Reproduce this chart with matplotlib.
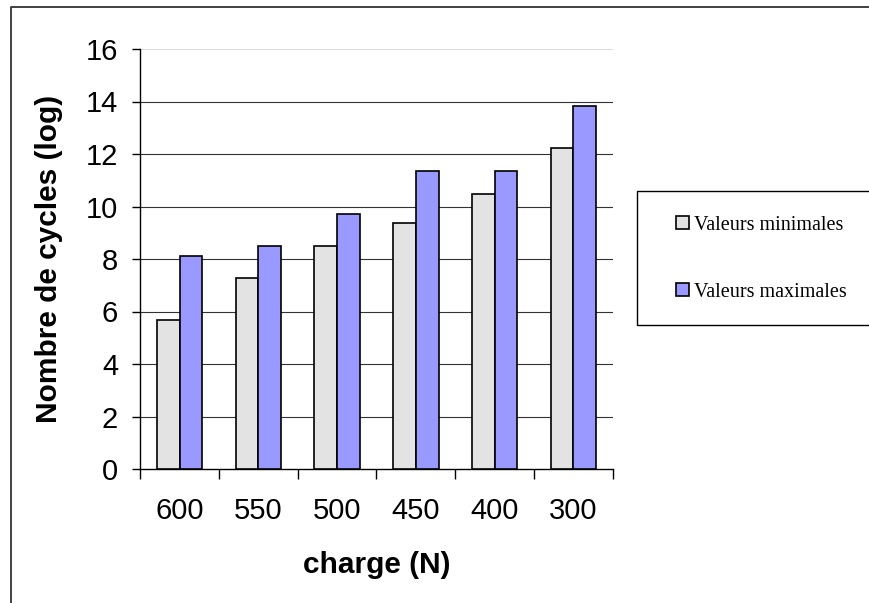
import matplotlib
matplotlib.use('Agg')
import matplotlib.pyplot as plt
from matplotlib.lines import Line2D
from matplotlib.patches import Rectangle
import numpy as np

plt.rcParams['font.family'] = ['Liberation Sans', 'DejaVu Sans']

# données
charges = ['600', '550', '500', '450', '400', '300']
val_min = [5.67, 7.26, 8.48, 9.37, 10.48, 12.21]
val_max = [8.12, 8.48, 9.71, 11.35, 11.35, 13.81]
series = ['Valeurs minimales', 'Valeurs maximales']
couleurs = ['#E3E3E3', '#9999FF']

fig = plt.figure(figsize=(8.7, 6.03), dpi=100)
ax = fig.add_axes([140.3 / 870, 134 / 603, 472.4 / 870, 420 / 603])

x = np.arange(len(charges))
w = 0.29
b1 = ax.bar(x - w / 2, val_min, w, color=couleurs[0], edgecolor='black', linewidth=1.2, zorder=3)
b2 = ax.bar(x + w / 2, val_max, w, color=couleurs[1], edgecolor='black', linewidth=1.2, zorder=3)

ax.set_xlim(-0.5, 5.5)
ax.set_ylim(0, 16)
ax.set_yticks(range(0, 17, 2))
for yv in range(2, 15, 2):
    ax.axhline(yv, color='#333333', lw=0.8, zorder=1)
ax.axhline(16, color='#dddddd', lw=0.8, zorder=1)

ax.set_xticks(x)
ax.set_xticklabels(charges)
ax.set_xticks(np.arange(-0.5, 6, 1), minor=True)
ax.tick_params(axis='x', which='major', length=0, pad=20, labelsize=21)
ax.tick_params(axis='x', which='minor', length=7, width=1, direction='out')
ax.tick_params(axis='y', length=6, width=1, pad=10, labelsize=21)

for s in ['top', 'right']:
    ax.spines[s].set_visible(False)
ax.spines['left'].set_linewidth(1)
ax.spines['bottom'].set_linewidth(1)

ax.set_xlabel('charge (N)', fontsize=21.5, fontweight='bold', va='top')
ax.xaxis.set_label_coords(0.5, -0.196)
ax.set_ylabel('Nombre de cycles (log)', fontsize=21.5, fontweight='bold')
ax.yaxis.set_label_coords(-0.163, 0.5)

# légende
fig.patches.append(Rectangle((637 / 870, 1 - 325 / 603), 0.3, 134.3 / 603,
                             transform=fig.transFigure, fill=False,
                             edgecolor='black', linewidth=1))
fig.legend([b1, b2], series, loc='center left', bbox_to_anchor=(666 / 870, 1 - 258.7 / 603),
           frameon=False, prop={'family': 'Liberation Serif', 'size': 14.5},
           borderpad=0, handlelength=0.62, handleheight=0.62, handletextpad=0.25,
           labelspacing=2.4)

# cadre extérieur
fig.lines.append(Line2D([11 / 870, 11 / 870, 1], [0, 1 - 7 / 603, 1 - 7 / 603],
                        transform=fig.transFigure, color='#333333', linewidth=1.3))

fig.savefig('out.png', dpi=100)
